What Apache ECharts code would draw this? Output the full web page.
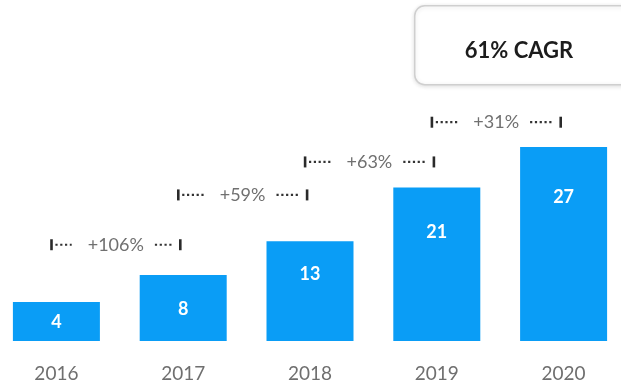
<!DOCTYPE html>
<html>
<head>
<meta charset="utf-8">
<script src="https://cdn.jsdelivr.net/npm/echarts@6/dist/echarts.min.js"></script>
<style>
html,body{margin:0;padding:0;background:#fff;}
#chart{width:621px;height:388px;}
</style>
</head>
<body>
<div id="chart"></div>
<script>
// ---- data ----
const years = ['2016', '2017', '2018', '2019', '2020'];
const values = [4, 8, 13, 21, 27];
const growthLabels = ['+106%', '+59%', '+63%', '+31%'];
const growthLevels = [12.5, 19.9, 24.8, 30.7];
const cagrText = '61% CAGR';

// ---- styling ----
const BAR_COLOR = '#0A9DF6';
const labelDistances = [11, 25, 24, 36, 41];
const ANN_FONT = '18px Lato';

const measureCtx = document.createElement('canvas').getContext('2d');
function textWidth(t, font) { measureCtx.font = font; return measureCtx.measureText(t).width; }

const chart = echarts.init(document.getElementById('chart'), null, {renderer: 'canvas'});

const barData = values.map((v, i) => ({
  value: v,
  label: {distance: labelDistances[i]}
}));

const annData = growthLabels.map((t, i) => [i, growthLevels[i]]);

const option = {
  animation: false,
  backgroundColor: '#ffffff',
  grid: {left: -7, right: -6, top: 100, bottom: 47, containLabel: false, outerBoundsMode: 'none'},
  xAxis: {
    type: 'category',
    data: years,
    axisLine: {show: false},
    axisTick: {show: false},
    axisLabel: {
      color: '#6f6f6f',
      fontFamily: 'Lato',
      fontSize: 19,
      margin: 23
    }
  },
  yAxis: {
    type: 'value',
    min: -1.8,
    max: 34,
    startValue: -1.8,
    show: false,
    splitLine: {show: false}
  },
  series: [
    {
      type: 'bar',
      data: barData,
      barWidth: 87,
      itemStyle: {color: BAR_COLOR},
      label: {
        show: true,
        position: 'insideTop',
        color: '#ffffff',
        fontFamily: 'Lato',
        fontWeight: 'bold',
        fontSize: 18
      }
    },
    {
      type: 'custom',
      data: annData,
      encode: {x: 0, y: 1},
      clip: false,
      silent: true,
      renderItem: function (params, api) {
        const i = api.value(0);
        const lvl = api.value(1);
        const p1 = api.coord([i, lvl]);
        const p2 = api.coord([i + 1, lvl]);
        const x1 = p1[0] - 5, x2 = p2[0] - 3, y = p1[1];
        const txt = growthLabels[params.dataIndex];
        const cx = (x1 + x2) / 2;
        const w = textWidth(txt, ANN_FONT);
        const dotStyle = {stroke: '#333', lineWidth: 2.2, lineDash: [2.2, 2.6]};
        return {
          type: 'group',
          children: [
            {type: 'rect', shape: {x: x1 - 1.2, y: y - 5.5, width: 2.6, height: 11}, style: {fill: '#2a2a2a'}},
            {type: 'line', shape: {x1: x1 + 4, y1: y, x2: cx - w / 2 - 16, y2: y}, style: dotStyle},
            {type: 'text', x: cx, y: y, style: {text: txt, font: ANN_FONT, fill: '#707070', align: 'center', verticalAlign: 'middle'}},
            {type: 'line', shape: {x1: cx + w / 2 + 11, y1: y, x2: x2 - 8, y2: y}, style: dotStyle},
            {type: 'rect', shape: {x: x2 - 1.2, y: y - 5.5, width: 2.6, height: 11}, style: {fill: '#2a2a2a'}}
          ]
        };
      }
    }
  ],
  graphic: [
    {
      type: 'rect',
      left: 414,
      top: 5,
      shape: {width: 220, height: 79, r: 10},
      style: {
        fill: '#ffffff',
        stroke: '#cfcfcf',
        lineWidth: 1.5,
        shadowBlur: 4,
        shadowColor: 'rgba(0,0,0,0.12)',
        shadowOffsetY: 1
      }
    },
    {
      type: 'text',
      x: 519,
      y: 51,
      style: {
        text: cagrText,
        font: 'bold 22px Lato',
        fill: '#1c1c1c',
        align: 'center',
        verticalAlign: 'middle'
      }
    }
  ]
};

chart.setOption(option);
</script>
</body>
</html>
